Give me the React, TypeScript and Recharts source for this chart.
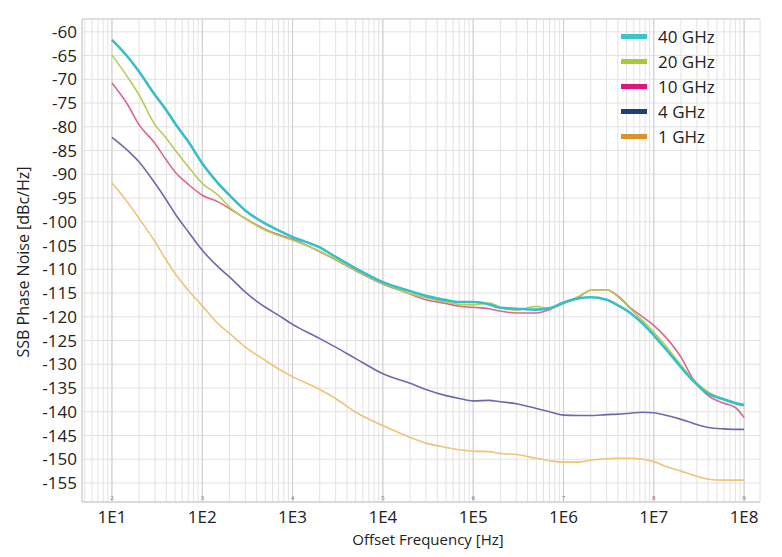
import React from 'react';
import { LineChart, Line, XAxis, YAxis, CartesianGrid, ReferenceLine, Legend } from 'recharts';

// offset frequencies in Hz (shared by every trace)
const freqs = [
    10, 15, 20, 30, 40, 50, 70, 100, 150, 200, 300, 500, 700, 1e3, 2e3, 3e3, 5e3, 1e4, 2e4, 3e4, 5e4, 7e4,
    1e5, 1.5e5, 2e5, 3e5, 5e5, 7e5, 1e6, 1.5e6, 2e6, 3e6, 4e6, 5.5e6, 7.5e6, 1e7, 1.4e7, 2e7, 2.7e7, 4e7, 6e7, 8e7, 1e8,
];

// SSB phase noise, dBc/Hz
const noise40 = [
    -61.7, -65.3, -68.4, -73.3, -76.5, -79.3, -83.1, -87.7, -91.9, -94.4, -97.6, -100.4, -101.8, -103.2, -105.4, -107.4,
    -109.8, -112.7, -114.6, -115.6, -116.5, -116.9, -116.9, -117.4, -118.1, -118.3, -118.5, -118.2, -117.0, -116.1, -115.9,
    -116.4, -117.6, -119.2, -121.4, -123.9, -127.1, -130.6, -133.4, -136.2, -137.4, -138.2, -138.6,
];
const noise20 = [
    -64.9, -69.6, -73.3, -79.6, -82.4, -84.9, -88.4, -91.9, -94.4, -96.9, -99.3, -101.8, -102.9, -103.9, -106.2, -107.9,
    -110.2, -113.0, -115.1, -116.0, -116.9, -117.4, -117.5, -117.1, -118.0, -118.6, -117.8, -118.3, -117.1, -115.6, -114.4,
    -114.3, -115.8, -118.3, -120.8, -123.2, -126.4, -130.2, -133.1, -135.8, -137.3, -138.1, -138.5,
];
const noise10 = [
    -70.8, -75.4, -79.6, -83.5, -87.0, -89.5, -92.1, -94.4, -95.8, -97.2, -99.3, -101.6, -102.7, -103.7, -106.3, -108.0,
    -110.3, -113.1, -115.2, -116.4, -117.2, -117.8, -118.0, -118.3, -118.8, -119.2, -119.2, -118.5, -117.2, -115.8, -114.4,
    -114.3, -115.6, -118.1, -120.0, -121.8, -124.6, -128.5, -133.0, -136.6, -138.2, -139.1, -141.2,
];
const noise4 = [
    -82.2, -85.0, -87.4, -91.9, -95.4, -98.3, -102.1, -106.0, -109.5, -111.6, -114.8, -118.0, -119.7, -121.6, -124.6, -126.4,
    -128.8, -132.0, -134.0, -135.3, -136.6, -137.2, -137.7, -137.6, -137.9, -138.3, -139.3, -140.0, -140.7, -140.8, -140.8,
    -140.6, -140.5, -140.3, -140.1, -140.2, -140.8, -141.6, -142.4, -143.3, -143.6, -143.7, -143.7,
];
const noise1 = [
    -91.8, -96.0, -99.3, -104.2, -108.1, -110.9, -114.4, -117.7, -121.5, -123.5, -126.4, -129.2, -131.0, -132.6, -135.3, -137.2,
    -140.1, -142.9, -145.4, -146.6, -147.5, -148.0, -148.3, -148.4, -148.8, -149.0, -149.8, -150.3, -150.6, -150.6, -150.2,
    -149.9, -149.8, -149.8, -150.0, -150.5, -151.6, -152.5, -153.3, -154.2, -154.4, -154.4, -154.4,
];

const seriesNames = ['40 GHz', '20 GHz', '10 GHz', '4 GHz', '1 GHz'];
const seriesKeys = ['g40', 'g20', 'g10', 'g4', 'g1'];
const lineColors = ['#38bec6', '#b4cf55', '#dd668c', '#6a6aae', '#edc47a'];
const legendColors = ['#3ec3c9', '#a8ca3a', '#e0157b', '#1d3f7e', '#da922a'];
const lineWidths = [2.6, 1.6, 1.6, 1.6, 1.6];

const decades = [10, 100, 1e3, 1e4, 1e5, 1e6, 1e7, 1e8];
const decadeMarks = ['2', '3', '4', '5', '6', '7', '8', '9'];
const yTicks = [-155, -150, -145, -140, -135, -130, -125, -120, -115, -110, -105, -100, -95, -90, -85, -80, -75, -70, -65, -60];

const xDomain = [4.66, 1.5e8];
const yDomain = [-159, -57.3];

const font = '"Open Sans", "Liberation Sans", sans-serif';

const data = freqs.map((f, i) => ({
    f,
    g40: noise40[i],
    g20: noise20[i],
    g10: noise10[i],
    g4: noise4[i],
    g1: noise1[i],
}));

// log minor grid: 1..9 per decade
const xTicks: number[] = [];
for (let e = 0; e <= 8; e++) {
    for (let m = 1; m <= 9; m++) {
        const v = m * Math.pow(10, e);
        if (v >= xDomain[0] && v <= xDomain[1]) xTicks.push(v);
    }
}

const fmtX = (v: number) => {
    const e = Math.round(Math.log10(v));
    return Math.abs(v - Math.pow(10, e)) < 1e-6 * v ? `1E${e}` : '';
};

const LegendBox = () => (
    <div style={{ fontFamily: font, fontSize: 17, color: '#222' }}>
        {seriesNames.map((name, i) => (
            <div key={name} style={{ display: 'flex', alignItems: 'center', height: 25 }}>
                <span style={{ display: 'inline-block', width: 26, height: 5, background: legendColors[i], marginRight: 11 }} />
                <span>{name}</span>
            </div>
        ))}
    </div>
);

export default function App() {
    return (
        <div style={{ position: 'absolute', left: 0, top: 0, width: 782, height: 557, background: '#fff' }}>
            <LineChart width={782} height={557} data={data} margin={{ top: 19, right: 22, bottom: 25, left: 0 }}>
                <CartesianGrid stroke="#e2e2e2" strokeWidth={1} />
                <XAxis
                    dataKey="f"
                    type="number"
                    scale="log"
                    domain={xDomain}
                    allowDataOverflow
                    ticks={xTicks}
                    interval={0}
                    tickFormatter={fmtX}
                    tickLine={false}
                    tickSize={0}
                    tickMargin={9}
                    height={30}
                    axisLine={{ stroke: '#c4c4c4' }}
                    tick={{ fontSize: 17, fill: '#222', fontFamily: font }}
                    label={() => (
                        <text x={428} y={545} textAnchor="middle" fontSize={15} fill="#222" fontFamily={font}>
                            Offset Frequency [Hz]
                        </text>
                    )}
                />
                <YAxis
                    type="number"
                    domain={yDomain}
                    allowDataOverflow
                    ticks={yTicks}
                    interval={0}
                    width={82}
                    tickLine={false}
                    tickSize={0}
                    tickMargin={5}
                    axisLine={{ stroke: '#c8c8c8' }}
                    tick={{ fontSize: 17, fill: '#222', fontFamily: font }}
                    label={() => (
                        <text
                            x={25}
                            y={262}
                            transform="rotate(-90 25 262)"
                            textAnchor="middle"
                            dominantBaseline="middle"
                            fontSize={16}
                            fill="#222"
                            fontFamily={font}
                        >
                            SSB Phase Noise [dBc/Hz]
                        </text>
                    )}
                />
                <ReferenceLine y={yDomain[1]} stroke="#d0d0d0" />
                {decades.map((d, i) => (
                    <ReferenceLine
                        key={d}
                        x={d}
                        stroke="#cdcdcd"
                        label={{ value: decadeMarks[i], position: 'insideBottom', offset: 2, fontSize: 7, fill: '#777' }}
                    />
                ))}
                {[4, 3, 2, 1, 0].map((i) => (
                    <Line
                        key={seriesKeys[i]}
                        dataKey={seriesKeys[i]}
                        name={seriesNames[i]}
                        type="monotone"
                        stroke={lineColors[i]}
                        strokeWidth={lineWidths[i]}
                        dot={false}
                        activeDot={false}
                        isAnimationActive={false}
                    />
                ))}
                <Legend
                    layout="vertical"
                    align="center"
                    verticalAlign="middle"
                    content={<LegendBox />}
                    wrapperStyle={{ position: 'absolute', top: 24, left: 621, width: 'auto' }}
                />
            </LineChart>
        </div>
    );
}
